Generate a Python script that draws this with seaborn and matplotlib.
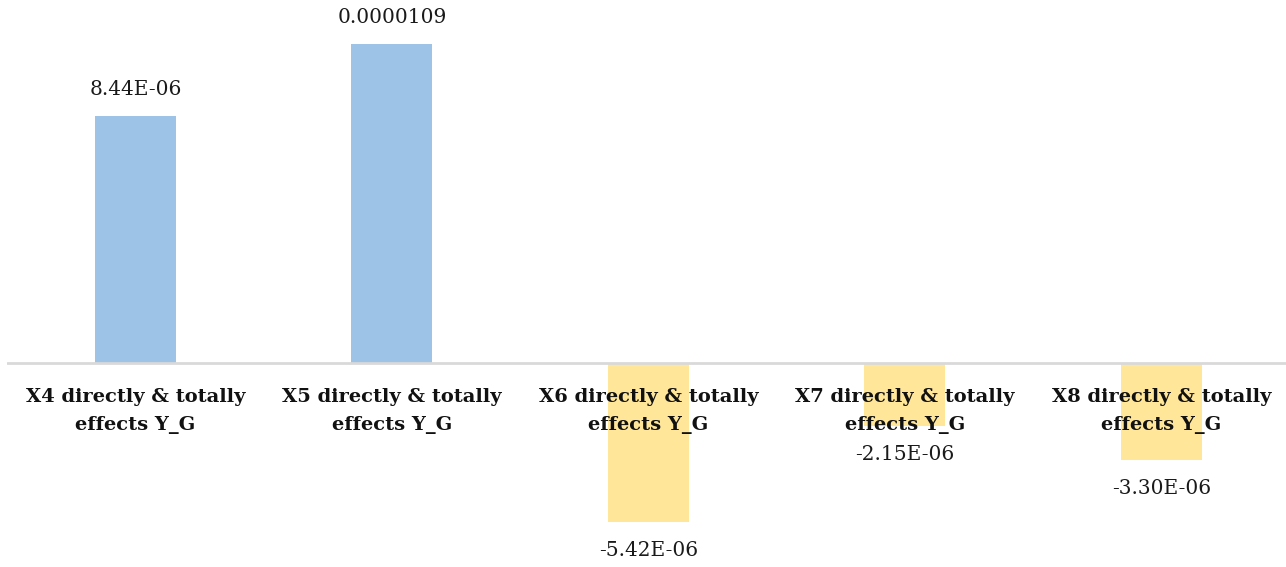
import matplotlib
matplotlib.use("Agg")
import matplotlib.pyplot as plt
import seaborn as sns
import pandas as pd

# data
categories = [
    "X4 directly & totally\neffects Y_G",
    "X5 directly & totally\neffects Y_G",
    "X6 directly & totally\neffects Y_G",
    "X7 directly & totally\neffects Y_G",
    "X8 directly & totally\neffects Y_G",
]
values = [8.44e-06, 1.09e-05, -5.42e-06, -2.15e-06, -3.30e-06]
value_labels = ["8.44E-06", "0.0000109", "-5.42E-06", "-2.15E-06", "-3.30E-06"]

df = pd.DataFrame({"cat": categories, "val": values})
df["sign"] = ["pos" if v >= 0 else "neg" for v in values]

sns.set_theme(style="white")
plt.rcParams["font.family"] = ["DejaVu Serif"]

fig = plt.figure(figsize=(12.86, 5.67), dpi=100)
ax = fig.add_axes([7 / 1286, 0, 1 - 7 / 1286, 1])

sns.barplot(data=df, x="cat", y="val", hue="sign", dodge=False,
            palette={"pos": "#9DC3E6", "neg": "#FFE699"}, saturation=1,
            width=0.316, legend=False, linewidth=0, ax=ax, zorder=1)

ax.set_ylim(-6.97e-06, 12.40e-06)
ax.set_xlim(-0.501, 4.486)
ax.axhline(0, color="#D9D9D9", lw=2, zorder=2)

for s in ax.spines.values():
    s.set_visible(False)
ax.set_xticks([])
ax.set_yticks([])
ax.set_xlabel("")
ax.set_ylabel("")

# category labels just below the zero line, drawn over the bars
for i, c in enumerate(categories):
    ax.annotate(c, (i, 0), xytext=(0, -18), textcoords="offset points",
                ha="center", va="top", fontsize=14, fontweight="bold",
                linespacing=1.75, color="#111111", zorder=3)

for i, (v, t) in enumerate(zip(values, value_labels)):
    if v >= 0:
        ax.annotate(t, (i, v), xytext=(0, 12), textcoords="offset points",
                    ha="center", va="bottom", fontsize=14.5, color="#1a1a1a")
    else:
        ax.annotate(t, (i, v), xytext=(0, -14), textcoords="offset points",
                    ha="center", va="top", fontsize=14.5, color="#1a1a1a")

fig.savefig("out.png", dpi=100)
